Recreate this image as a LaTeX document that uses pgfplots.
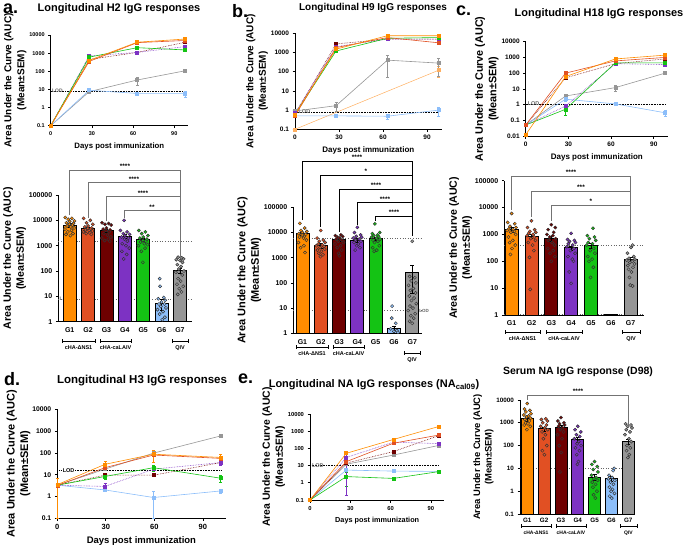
\documentclass[border=0pt]{standalone}
\usepackage{fontspec}
\setmainfont{Liberation Sans}
\usepackage{pgfplots}
\pgfplotsset{compat=1.18}
\definecolor{cg1}{RGB}{255,140,0}
\definecolor{cg2}{RGB}{225,80,35}
\definecolor{cg3}{RGB}{110,0,0}
\definecolor{cg4}{RGB}{125,50,195}
\definecolor{cg5}{RGB}{20,195,20}
\definecolor{cg6}{RGB}{140,190,250}
\definecolor{cg7}{RGB}{150,150,150}
\definecolor{cg1l}{RGB}{255,175,95}
\newcommand{\fs}[1]{\fontsize{#1}{#1}\selectfont\bfseries}
\newcommand{\fsl}[2]{\fontsize{#1}{#2}\selectfont\bfseries}

\pgfplotsset{
  myframe/.style={scale only axis, axis lines=left, axis line style={-, line width=0.9pt},
    clip=false, tick align=outside, major tick length=2.5pt,
    tick style={line width=0.7pt, black}, yminorticks=false,
    xlabel style={font=\fs{8}}, ylabel shift=-4pt,
    ylabel style={font=\fsl{10.5}{13}, align=center},
    ylabel={Area Under the Curve (AUC)\\(Mean±SEM)}},
  mylines/.style={myframe, xmin=0, xmax=100, xtick={0,30,60,90}, xticklabels={0,30,60,90},
    xlabel={Days post immunization}, tick label style={font=\fs{6.5}}},
  mybars/.style={myframe, xtick={1,...,7}, xticklabels={G1,G2,G3,G4,G5,G6,G7},
    x tick style={draw=none}, tick label style={font=\fs{7}}},
  ser/.style={mark=square*, mark size=1.5pt, line width=0.6pt, color=#1, mark options={solid, fill=#1}},
  dser/.style={ser=#1, densely dotted},
  eb/.style={error bars/y dir=both, error bars/y explicit, error bars/error bar style={line width=0.6pt, solid}},
  bars/.style={ybar, bar width=13pt, bar shift=0pt, fill=#1, draw=black, line width=0.8pt,
    error bars/y dir=both, error bars/y explicit, error bars/error bar style={line width=0.8pt, black}},
  dots/.style={only marks, mark=*, mark size=1.6pt, mark options={fill=#1, draw=black!80, line width=0.45pt}},
}
\tikzset{
  lod/.style={densely dotted, line width=0.6pt, black},
  gl/.style={dotted, black!60, line width=0.6pt},
}

\begin{document}
\begin{tikzpicture}
\path[use as bounding box] (0,0) rectangle (685pt,-546pt);

% ---------- a: line ----------
\begin{axis}[mylines, ymode=log, at={(50.7pt,-125.7pt)}, anchor=south west, width=137.3pt, height=90.7pt,
  ymin=0.1, ymax=10000, ytick={0.1,1,10,100,1000,10000}, yticklabels={0.1,1,10,100,1000,10000},
  tick label style={font=\fs{5.5}}, xlabel style={font=\fs{7.8}}, ylabel style={font=\fsl{10}{13}}]
  \draw[lod] (axis cs:0,8) -- (axis cs:98,8);
  \node[font=\fs{5}, text=black!60, anchor=west, inner sep=0.5pt] at (axis cs:0.5,8) {LOD};
  \addplot[ser=cg7, eb] coordinates {(0,0.1) +- (0,0) (28,7.5) +- (0,1) (63,33) +- (0,15) (98,107) +- (0,20)};
  \addplot[ser=cg6, eb] coordinates {(0,0.1) +- (0,0) (28,9) +- (0,1.5) (63,6) +- (0,1) (98,6) +- (0,2.5)};
  \addplot[dser=cg3] coordinates {(0,0.1) (28,450) (63,1100) (98,4000)};
  \addplot[dser=cg4] coordinates {(0,0.1) (28,700) (63,1100) (98,2300)};
  \addplot[ser=cg5] coordinates {(0,0.1) (28,600) (63,2000) (98,1500)};
  \addplot[ser=cg2] coordinates {(0,0.1) (28,350) (63,3800) (98,5000)};
  \addplot[ser=cg1] coordinates {(0,0.1) (28,400) (63,4000) (98,6000)};
\end{axis}

% ---------- b: line ----------
\begin{axis}[mylines, ymode=log, at={(295pt,-129.3pt)}, anchor=south west, width=146.7pt, height=96pt,
  ymin=0.1, ymax=10000, ytick={0.1,1,10,100,1000,10000}, yticklabels={0.1,1,10,100,1000,10000},
  ylabel style={font=\fsl{10}{12.5}}]
  \draw[lod] (axis cs:0,0.8) -- (axis cs:98,0.8);
  \node[font=\fs{5.5}, text=black!60, anchor=west, inner sep=0.5pt] at (axis cs:2,0.8) {LOD};
  \addplot[ser=cg1l, line width=0.5pt, eb] coordinates {(0,0.1) +- (0,0) (98,120) +- (0,70)};
  \addplot[ser=cg7, eb] coordinates {(0,0.9) +- (0,0.1) (28,1.7) +- (0,0.8) (63,400) +- (0,350) (98,280) +- (0,220)};
  \addplot[ser=cg6, eb] coordinates {(0,0.5) +- (0,0) (28,0.5) +- (0,0) (63,0.48) +- (0,0.15) (98,1.0) +- (0,0.5)};
  \addplot[dser=cg3] coordinates {(0,0.6) (28,2800) (63,5000) (98,5000)};
  \addplot[dser=cg4] coordinates {(0,0.7) (28,2000) (63,5000) (98,5000)};
  \addplot[ser=cg5] coordinates {(0,0.6) (28,1200) (63,5500) (98,6000)};
  \addplot[ser=cg2] coordinates {(0,0.5) (28,1800) (63,6000) (98,3200)};
  \addplot[ser=cg1] coordinates {(0,0.6) (28,1500) (63,7500) (98,7500)};
\end{axis}

% ---------- c: line ----------
\begin{axis}[mylines, ymode=log, at={(525.7pt,-136pt)}, anchor=south west, width=142.3pt, height=94.3pt,
  ymin=0.01, ymax=10000, ytick={0.01,0.1,1,10,100,1000,10000}, yticklabels={0.01,0.1,1,10,100,1000,10000},
  ylabel style={font=\fsl{10.8}{13.5}}]
  \draw[lod] (axis cs:0,1.1) -- (axis cs:98,1.1);
  \node[font=\fs{5.5}, text=black!60, anchor=west, inner sep=0.5pt] at (axis cs:1,1.1) {LOD};
  \addplot[ser=cg7, eb] coordinates {(0,0.05) +- (0,0) (28,3.5) +- (0,1) (63,12) +- (0,5) (98,100) +- (0,15)};
  \addplot[ser=cg6, eb] coordinates {(0,0.05) +- (0,0) (28,2.2) +- (0,0.5) (63,1.1) +- (0,0.2) (98,0.3) +- (0,0.12)};
  \addplot[dser=cg3] coordinates {(0,0.05) (28,50) (63,400) (98,800)};
  \addplot[dser=cg4] coordinates {(0,0.05) (28,0.8) (63,400) (98,350)};
  \addplot[ser=cg5, eb] coordinates {(0,0.05) +- (0,0) (28,0.5) +- (0,0.3) (63,450) +- (0,100) (98,450) +- (0,100)};
  \addplot[ser=cg2] coordinates {(0,0.05) (28,100) (63,600) (98,1000)};
  \addplot[ser=cg1] coordinates {(0,0.012) (28,60) (63,800) (98,1400)};
\end{axis}

% ---------- a: bars ----------
\begin{axis}[mybars, ymode=log, at={(58.3pt,-321.7pt)}, anchor=south west, width=133.4pt, height=126.7pt,
  xmin=0.38, xmax=7.64, ymin=1, ymax=100000, log origin y=infty,
  ytick={1,10,100,1000,10000,100000}, yticklabels={1,10,100,1000,10000,100000},
  ylabel style={font=\fsl{10.6}{13}}]
  \draw[gl] (axis cs:0.38,1550) -- (axis cs:7.64,1550);
  \draw[gl] (axis cs:0.38,7.7) -- (axis cs:7.64,7.7);
  \node[font=\fs{5}, text=black!60, anchor=west, inner sep=0.5pt] at (axis cs:0.42,7.7) {LOD};
  \addplot[bars=cg1] coordinates {(1,6500) +- (0,900)};
  \addplot[bars=cg2] coordinates {(2,4900) +- (0,600)};
  \addplot[bars=cg3] coordinates {(3,4000) +- (0,500)};
  \addplot[bars=cg4] coordinates {(4,2400) +- (0,500)};
  \addplot[bars=cg5] coordinates {(5,1700) +- (0,250)};
  \addplot[bars=cg6] coordinates {(6,5.3) +- (0,2.5)};
  \addplot[bars=cg7] coordinates {(7,110) +- (0,25)};
  \addplot[dots=cg1] coordinates {(0.76,13000)(1.12,12000)(0.92,11000)(1.26,9500)(1.0,9000)(0.82,8000)(1.2,7500)(0.98,7000)(1.14,6500)(0.86,6000)(1.06,5500)(1.24,5000)(0.74,4500)(1.1,4000)(0.9,3500)(1.18,3000)(0.8,2800)(1.04,2500)};
  \addplot[dots=cg2] coordinates {(1.76,12000)(2.12,10000)(1.92,8000)(2.26,7000)(2.0,6000)(1.82,5500)(2.2,5000)(1.98,4800)(2.14,4500)(1.86,4200)(2.06,4000)(2.24,3800)(1.74,3500)(2.1,3200)(1.9,3000)(2.18,2800)};
  \addplot[dots=cg3] coordinates {(2.76,8000)(3.12,7500)(2.92,7000)(3.26,6500)(3.0,5000)(2.82,4500)(3.2,4200)(2.98,4000)(3.14,3500)(2.86,3000)(3.06,2600)(3.24,2200)(2.74,2000)(3.1,1800)(2.9,1600)(3.18,1500)};
  \addplot[dots=cg4] coordinates {(3.96,10000)(3.76,4000)(4.12,3500)(3.92,3000)(4.26,2800)(4.0,2500)(3.82,2200)(4.2,2000)(3.98,1800)(4.14,1500)(3.86,1200)(4.06,1000)(4.24,800)(3.84,600)(4.1,450)(3.94,300)};
  \addplot[dots=cg5] coordinates {(4.76,4000)(5.12,3500)(4.92,3000)(5.26,2500)(5.0,2200)(4.82,2000)(5.2,1800)(4.98,1600)(5.14,1500)(4.86,1400)(5.06,1200)(5.24,1100)(4.74,1000)(5.1,800)(4.9,600)(4.98,220)};
  \addplot[dots=cg6] coordinates {(5.9,50)(5.92,25)(6.12,9)(5.82,8)(6.2,7)(6.0,6)(5.86,5)(6.16,5)(5.96,4)(6.24,3.5)(5.78,3)(6.08,2.5)(5.9,2)(6.18,1.5)(6.04,1.2)};
  \addplot[dots=cg7] coordinates {(6.9,350)(7.1,330)(7.2,300)(6.8,280)(7.0,260)(7.14,220)(6.86,180)(7.06,150)(6.94,120)(7.22,100)(6.78,90)(7.12,70)(6.9,50)(7.04,40)(6.84,30)(7.18,25)(6.96,20)(7.08,15)(6.88,12)};
\end{axis}

% ---------- b: bars ----------
\begin{axis}[mybars, ymode=log, at={(293.3pt,-333.3pt)}, anchor=south west, width=129pt, height=126pt,
  xmin=0.5, xmax=7.55, ymin=1, ymax=100000, log origin y=infty,
  ytick={1,10,100,1000,10000,100000}, yticklabels={1,10,100,1000,10000,100000},
  ylabel style={font=\fsl{11}{13.5}}]
  \draw[gl] (axis cs:0.5,5900) -- (axis cs:7.55,5900);
  \draw[gl] (axis cs:0.5,7.9) -- (axis cs:7.55,7.9);
  \node[font=\fs{4.5}, text=black!60, anchor=west, inner sep=0.5pt] at (axis cs:7.35,7.9) {LOD};
  \addplot[bars=cg1] coordinates {(1,9000) +- (0,1200)};
  \addplot[bars=cg2] coordinates {(2,3000) +- (0,600)};
  \addplot[bars=cg3] coordinates {(3,5200) +- (0,500)};
  \addplot[bars=cg4] coordinates {(4,5000) +- (0,700)};
  \addplot[bars=cg5] coordinates {(5,5800) +- (0,900)};
  \addplot[bars=cg6] coordinates {(6,1.5) +- (0,0.5)};
  \addplot[bars=cg7] coordinates {(7,270) +- (0,230)};
  \addplot[dots=cg1] coordinates {(0.86,23000)(1.12,15000)(0.92,12000)(1.24,11000)(1.0,10000)(0.8,9000)(1.18,8500)(0.98,8000)(1.1,7000)(0.84,6500)(1.06,6000)(1.22,5000)(0.78,4000)(1.08,3000)(0.9,2500)(1.14,1600)};
  \addplot[dots=cg2] coordinates {(2.0,12000)(1.8,6000)(2.14,5000)(1.92,4500)(2.24,4000)(1.86,3500)(2.08,3200)(1.76,3000)(2.18,2800)(1.96,2500)(2.22,2200)(1.82,2000)(2.04,1800)(1.9,1500)(2.12,1300)(1.98,1100)};
  \addplot[dots=cg3] coordinates {(3.1,8000)(2.8,7500)(3.2,7000)(2.92,6500)(3.04,6000)(2.84,5500)(3.16,5000)(2.96,4500)(3.24,4000)(2.78,3500)(3.08,3000)(2.9,2500)(3.14,2000)(2.98,1500)(3.02,1200)};
  \addplot[dots=cg4] coordinates {(4.0,16000)(3.84,10000)(4.18,8000)(3.94,7000)(4.24,6500)(3.78,6000)(4.1,5500)(3.9,5000)(4.2,4500)(3.82,4000)(4.06,3500)(3.96,3000)(4.14,2500)(3.88,2000)};
  \addplot[dots=cg5] coordinates {(4.96,22000)(5.22,10000)(4.82,9000)(5.1,8000)(4.9,7500)(5.16,7000)(4.78,6500)(5.04,6000)(5.24,5500)(4.86,5000)(5.12,4500)(4.94,4000)(5.2,3000)(4.84,2500)(5.06,2000)(4.92,1800)};
  \addplot[dots=cg6] coordinates {(5.9,12)(5.88,4)(6.1,2.5)(5.82,1.5)(6.16,1.3)(6.0,1.2)(6.22,1.1)};
  \addplot[dots=cg7] coordinates {(7.0,4500)(6.86,180)(7.14,160)(6.94,120)(7.2,100)(6.8,80)(7.06,60)(6.9,50)(7.18,40)(6.84,30)(7.1,25)(6.96,20)(7.22,15)(6.88,12)(7.04,10)(6.78,8)(7.16,6)(6.92,5)(7.08,4)(6.86,3)(7.0,2.5)};
\end{axis}

% ---------- c: bars ----------
\begin{axis}[mybars, ymode=log, at={(504.3pt,-315pt)}, anchor=south west, width=140pt, height=134.3pt,
  xmin=0.63, xmax=7.69, ymin=1, ymax=100000, log origin y=infty,
  ytick={1,10,100,1000,10000,100000}, yticklabels={1,10,100,1000,10000,100000},
  ylabel style={font=\fsl{10.6}{13}}]
  \draw[gl] (axis cs:0.63,380) -- (axis cs:7.69,380);
  \draw[gl] (axis cs:0.63,1.08) -- (axis cs:7.69,1.08);
  \addplot[bars=cg1] coordinates {(1,1550) +- (0,300)};
  \addplot[bars=cg2] coordinates {(2,850) +- (0,150)};
  \addplot[bars=cg3] coordinates {(3,700) +- (0,130)};
  \addplot[bars=cg4] coordinates {(4,320) +- (0,60)};
  \addplot[bars=cg5] coordinates {(5,400) +- (0,80)};
  \addplot[bars=cg6] coordinates {(6,1.05) +- (0,0)};
  \addplot[bars=cg7] coordinates {(7,120) +- (0,20)};
  \addplot[dots=cg1] coordinates {(1.0,6000)(0.8,2800)(1.16,2500)(0.92,2000)(1.22,1800)(0.86,1600)(1.08,1500)(0.78,1400)(1.14,1300)(0.96,1200)(1.2,1000)(0.84,800)(1.06,600)(0.9,500)(1.18,400)(1.02,300)(0.94,180)};
  \addplot[dots=cg2] coordinates {(2.0,3200)(1.8,1800)(2.16,1500)(1.92,1300)(2.22,1200)(1.86,1100)(2.08,1000)(1.78,900)(2.14,800)(1.96,700)(2.2,600)(1.84,500)(2.06,400)(2.12,250)(1.9,140)(1.94,9)};
  \addplot[dots=cg3] coordinates {(3.0,2300)(3.2,1800)(2.84,1500)(3.12,1200)(2.78,1000)(3.08,900)(2.92,800)(3.22,700)(2.86,600)(3.04,500)(3.16,400)(2.82,300)(3.1,250)(2.94,200)(3.18,150)(3.0,100)};
  \addplot[dots=cg4] coordinates {(4.0,1100)(3.82,650)(4.16,600)(3.92,550)(4.22,500)(3.86,450)(4.08,400)(3.78,350)(4.14,300)(3.96,250)(4.2,200)(3.84,150)(4.06,120)(4.12,100)(3.9,40)(4.0,15)};
  \addplot[dots=cg5] coordinates {(5.1,1700)(4.82,900)(5.18,800)(4.92,700)(5.24,600)(4.86,500)(5.08,450)(4.78,400)(5.14,300)(4.96,250)(5.2,200)(4.84,150)(5.06,120)(4.9,100)(5.12,60)(4.98,25)};
  \addplot[dots=cg7] coordinates {(7.1,400)(7.02,330)(6.84,200)(7.16,150)(6.92,130)(7.22,120)(6.8,110)(7.08,100)(6.96,90)(7.2,80)(6.86,70)(7.12,60)(6.9,50)(7.04,40)(6.94,25)(6.98,13)(7.1,12)};
\end{axis}

% ---------- d: line ----------
\begin{axis}[mylines, ymode=log, at={(57.3pt,-518.3pt)}, anchor=south west, width=168.2pt, height=109pt, xmax=104,
  ymin=0.1, ymax=10000, ytick={0.1,1,10,100,1000,10000}, yticklabels={0.1,1,10,100,1000,10000},
  tick label style={font=\fs{6.8}}, xticklabel style={font=\fs{7.5}}, xlabel style={font=\fs{9.5}},
  ylabel style={font=\fsl{11}{13.5}, yshift=-1pt}]
  \draw[lod] (axis cs:0,16) -- (axis cs:101,16);
  \node[font=\fs{5.5}, anchor=west, fill=white, inner sep=0.5pt] at (axis cs:3,16) {LOD};
  \addplot[ser=cg7] coordinates {(0,3.3) (29.5,18) (59.5,98) (101,600)};
  \addplot[ser=cg6, eb] coordinates {(0,3.3) +- (0,0.5) (29.5,2.0) +- (0,0.3) (59.5,0.9) +- (0,0.8) (101,1.8) +- (0,0.4)};
  \addplot[dser=cg3] coordinates {(0,3.3) (29.5,9.5) (59.5,9.5) (101,36)};
  \addplot[dser=cg4, eb] coordinates {(0,3.3) +- (0,0.5) (29.5,2.9) +- (0,1) (59.5,18) +- (0,4) (101,36) +- (0,10)};
  \addplot[ser=cg5, eb] coordinates {(0,3.3) +- (0,0.5) (29.5,8.3) +- (0,2) (59.5,21) +- (0,6) (101,6.9) +- (0,2.5)};
  \addplot[ser=cg2] coordinates {(0,3.2) (29.5,21) (59.5,80) (101,56)};
  \addplot[ser=cg1, eb] coordinates {(0,3.5) +- (0,3.4) (29.5,30) +- (0,10) (59.5,87) +- (0,50) (101,62) +- (0,25)};
\end{axis}

% ---------- e: line ----------
\begin{axis}[mylines, ymode=log, at={(310pt,-500pt)}, anchor=south west, width=134.4pt, height=86pt, xmax=100,
  ymin=0.1, ymax=10000, ytick={0.1,1,10,100,1000,10000}, yticklabels={0.1,1,10,100,1000,10000},
  tick label style={font=\fs{5.8}}, xlabel style={font=\fs{7.3}}, ylabel style={font=\fsl{10.4}{13}}]
  \draw[lod] (axis cs:0,10.4) -- (axis cs:96,10.4);
  \node[font=\fs{5.5}, text=black!60, anchor=west, inner sep=0.5pt] at (axis cs:1,10.4) {LOD};
  \addplot[ser=cg7] coordinates {(0,0.1) (27,12) (62,41) (96,150)};
  \addplot[ser=cg6] coordinates {(0,0.1) (27,5.5) (62,4.8) (96,4.6)};
  \addplot[ser=cg5, eb] coordinates {(0,0.1) +- (0,0) (27,2.3) +- (0,1.7) (62,1.8) +- (0,0.4) (96,4.5) +- (0,1)};
  \addplot[dser=cg3] coordinates {(0,0.1) (27,14) (62,65) (96,560)};
  \addplot[dser=cg4, eb] coordinates {(0,0.1) +- (0,0) (27,30) +- (0,29.8) (62,230) +- (0,60) (96,190) +- (0,40)};
  \addplot[ser=cg2] coordinates {(0,0.1) (27,17) (62,200) (96,600)};
  \addplot[ser=cg1] coordinates {(0,0.1) (27,52) (62,330) (96,1900)};
\end{axis}

% ---------- e: bars ----------
\begin{axis}[mybars, ymode=log, at={(520pt,-514pt)}, anchor=south west, width=115pt, height=114pt,
  xmin=0.57, xmax=7.4, ymin=0.1, ymax=10000, log origin y=infty,
  ytick={0.1,1,10,100,1000,10000}, yticklabels={0.1,1,10,100,1000,10000},
  tick label style={font=\fs{6.3}}, xticklabel style={yshift=1.5pt},
  ylabel style={font=\fsl{9.4}{11.5}}]
  \draw[gl] (axis cs:0.57,10) -- (axis cs:7.4,10);
  \node[font=\fs{4.5}, text=black!60, anchor=west, inner sep=0.5pt] at (axis cs:0.6,10) {LOD};
  \addplot[bars=cg1, bar width=12pt] coordinates {(1,1500) +- (0,350)};
  \addplot[bars=cg2, bar width=12pt] coordinates {(2,550) +- (0,120)};
  \addplot[bars=cg3, bar width=12pt] coordinates {(3,650) +- (0,130)};
  \addplot[bars=cg4, bar width=12pt] coordinates {(4,180) +- (0,45)};
  \addplot[bars=cg5, bar width=12pt] coordinates {(5,4.2) +- (0,1.2)};
  \addplot[bars=cg6, bar width=12pt] coordinates {(6,3.6) +- (0,0.8)};
  \addplot[bars=cg7, bar width=12pt] coordinates {(7,150) +- (0,40)};
  \addplot[dots=cg1] coordinates {(1.0,7000)(0.84,4000)(1.16,3500)(0.92,3000)(1.22,2500)(0.8,2200)(1.08,2000)(0.96,1800)(1.2,1600)(0.86,1400)(1.12,1200)(0.9,1000)(1.04,900)(0.82,800)(1.18,700)(0.98,500)};
  \addplot[dots=cg2] coordinates {(2.1,1500)(1.84,1400)(2.2,1200)(1.92,1000)(2.14,800)(1.8,700)(2.04,600)(2.22,500)(1.88,400)(2.08,300)(1.96,200)(2.16,100)(1.9,60)(2.02,40)};
  \addplot[dots=cg3] coordinates {(3.0,1700)(2.82,1200)(3.18,1000)(2.92,900)(3.22,800)(2.86,700)(3.1,600)(2.96,500)(3.16,400)(2.8,300)(3.06,200)(2.9,100)(3.02,50)(2.94,7)};
  \addplot[dots=cg4] coordinates {(4.0,700)(3.84,500)(4.18,400)(3.92,300)(4.12,250)(3.8,200)(4.06,150)(3.96,120)(4.2,100)(3.86,80)(4.1,60)(3.94,40)(4.04,20)(3.98,15)};
  \addplot[dots=cg5] coordinates {(5.0,20)(4.84,15)(5.16,12)(4.92,9)(5.2,7)(4.82,5)(5.1,4)(4.96,3.5)(5.18,3)(4.86,2.5)(5.06,2)(4.9,1.5)(5.14,1)(4.94,0.7)(5.04,0.5)};
  \addplot[dots=cg6] coordinates {(6.16,10)(6.1,8)(5.86,5)(6.04,4)(5.82,3.5)(6.2,3)(5.94,2.5)(6.12,2)(5.88,1.5)(6.06,1.2)(5.98,1)(6.18,0.8)(5.9,0.6)(6.02,0.5)};
  \addplot[dots=cg7] coordinates {(6.84,900)(7.16,800)(6.96,700)(7.22,600)(6.88,500)(7.1,400)(6.8,300)(7.04,200)(7.18,150)(6.92,100)(7.12,80)(6.9,60)(7.06,40)(6.98,30)};
\end{axis}

% ---------- annotations ----------
\begin{scope}[x=1pt, y=-1pt]
  \node[font=\fs{18}, anchor=north west, inner sep=0] at (3,4) {a.};
  \node[font=\fs{18}, anchor=north west, inner sep=0] at (232,4) {b.};
  \node[font=\fs{18}, anchor=north west, inner sep=0] at (456,6) {c.};
  \node[font=\fs{18}, anchor=north west, inner sep=0] at (4,372) {d.};
  \node[font=\fs{18}, anchor=north west, inner sep=0] at (238,374) {e.};
  \node[font=\fs{11}] at (119,9) {Longitudinal H2 IgG responses};
  \node[font=\fs{10}] at (373,8) {Longitudinal H9 IgG responses};
  \node[font=\fs{11}] at (599,14) {Longitudinal H18 IgG responses};
  \node[font=\fs{11.5}] at (142,381) {Longitudinal H3 IgG responses};
  \node[font=\fs{11}] at (374,385) {Longitudinal NA IgG responses (NA\textsubscript{cal09})};
  \node[font=\fs{10.5}] at (578,372) {Serum NA IgG response (D98)};

  \begin{scope}[draw=black!55, line width=0.8pt]
    \draw (69.7,215) -- (69.7,170) -- (180,170) -- (180,258);
    \draw (88,218) -- (88,182) -- (180,182);
    \draw (106.4,221) -- (106.4,196) -- (180,196);
    \draw (124.8,218) -- (124.8,210) -- (180,210);
  \end{scope}
  \node[font=\fs{6.5}] at (125,166) {****};
  \node[font=\fs{6.5}] at (134,179) {****};
  \node[font=\fs{6.5}] at (143,193) {****};
  \node[font=\fs{6.5}] at (152,207) {**};

  \begin{scope}[draw=black, line width=0.8pt]
    \draw (302.5,220) -- (302.5,161.7) -- (412.3,161.7) -- (412.3,236);
    \draw (320.8,227) -- (320.8,175) -- (412.3,175);
    \draw (339.1,232) -- (339.1,189.3) -- (412.3,189.3);
    \draw (357.4,225) -- (357.4,202.7) -- (412.3,202.7);
    \draw (375.7,221) -- (375.7,216) -- (412.3,216);
  \end{scope}
  \node[font=\fs{6.5}] at (357,157.5) {****};
  \node[font=\fs{6.5}] at (366,171.5) {*};
  \node[font=\fs{6.5}] at (376,185.5) {****};
  \node[font=\fs{6.5}] at (385,199) {****};
  \node[font=\fs{6.5}] at (394,212.5) {****};

  \begin{scope}[draw=black!55, line width=0.8pt]
    \draw (511.6,210) -- (511.6,176) -- (630.4,176) -- (630.4,240);
    \draw (531.4,217) -- (531.4,191) -- (630.4,191);
    \draw (551.2,221) -- (551.2,205) -- (630.4,205);
  \end{scope}
  \node[font=\fs{6.5}] at (571,172.5) {****};
  \node[font=\fs{6.5}] at (581,187.5) {***};
  \node[font=\fs{6.5}] at (591,201.5) {*};

  \begin{scope}[draw=black!55, line width=0.8pt]
    \draw (527.3,400) -- (527.3,395) -- (628.3,395) -- (628.3,428);
  \end{scope}
  \node[font=\fs{6.5}] at (578,391.5) {****};

  \begin{scope}[line width=0.8pt]
    \draw (62,339) -- (62,343) (62,341) -- (95,341) (95,339) -- (95,343);
    \draw (100,339) -- (100,343) (100,341) -- (131,341) (131,339) -- (131,343);
    \draw (172,339) -- (172,343) (172,341) -- (188,341) (188,339) -- (188,343);
    \draw (296,345) -- (296,349) (296,347) -- (328,347) (328,345) -- (328,349);
    \draw (333,345) -- (333,349) (333,347) -- (364,347) (364,345) -- (364,349);
    \draw (404,351) -- (404,355) (404,353) -- (420,353) (420,351) -- (420,355);
    \draw (505,330) -- (505,334) (505,332) -- (540,332) (540,330) -- (540,334);
    \draw (546,330) -- (546,334) (546,332) -- (582,332) (582,330) -- (582,334);
    \draw (622,330) -- (622,334) (622,332) -- (640,332) (640,330) -- (640,334);
    \draw (521,524) -- (521,528) (521,526) -- (551,526) (551,524) -- (551,528);
    \draw (556,524) -- (556,528) (556,526) -- (586,526) (586,524) -- (586,528);
    \draw (620,524) -- (620,528) (620,526) -- (637,526) (637,524) -- (637,528);
  \end{scope}
  \node[font=\fs{5.5}] at (78.5,348) {cHA-ΔNS1};
  \node[font=\fs{5.5}] at (115.5,348) {cHA-caLAIV};
  \node[font=\fs{5.5}] at (180,348) {QIV};
  \node[font=\fs{5.5}] at (312,354) {cHA-ΔNS1};
  \node[font=\fs{5.5}] at (348.5,354) {cHA-caLAIV};
  \node[font=\fs{5.5}] at (412,360) {QIV};
  \node[font=\fs{5.5}] at (522.5,339) {cHA-ΔNS1};
  \node[font=\fs{5.5}] at (564,339) {cHA-caLAIV};
  \node[font=\fs{5.5}] at (631,339) {QIV};
  \node[font=\fs{5}] at (536,533) {cHA-ΔNS1};
  \node[font=\fs{5}] at (571,533) {cHA-caLAIV};
  \node[font=\fs{5}] at (628.5,533) {QIV};
\end{scope}
\end{tikzpicture}
\end{document}
